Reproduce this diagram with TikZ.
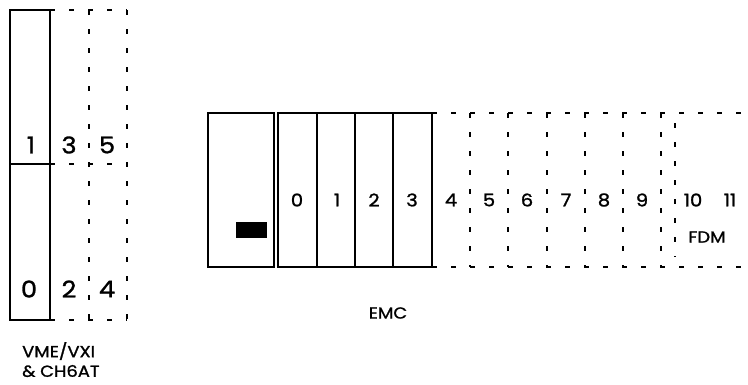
\documentclass[tikz,border=0pt]{standalone}
\usepackage{fontspec}
\setmainfont{Poppins}[FakeBold=1.3, FakeStretch=1.12]
\begin{document}
\begin{tikzpicture}[x=1pt,y=-1pt,
  solid line/.style={line width=2.4pt},
  slot line/.style={line width=1.7pt, dash pattern=on 5pt off 14pt},
  bigdigit/.style={font=\fontsize{23}{25}\selectfont, inner sep=0pt},
  slotdigit/.style={font=\fontsize{17.5}{19}\selectfont, inner sep=0pt},
  caption/.style={font=\fontsize{16}{18}\selectfont, inner sep=0pt}]
\useasboundingbox (0,0) rectangle (748,384);

% VME/VXI chassis: two solid slots plus dashed expansion slots
\draw[solid line] (10,10) rectangle (50,320);
\draw[solid line] (10,164) -- (50,164);
\draw[slot line] (50,10) -- (127,10);
\draw[slot line] (50,164) -- (127,164);
\draw[slot line] (50,320) -- (127,320);
\draw[slot line] (89,10) -- (89,320);
\draw[slot line] (127,10) -- (127,320);

\node[bigdigit] (v1) at (31,145) {1};
\node[bigdigit] (v3) at (69,145) {3};
\node[bigdigit] (v5) at (107,145) {5};
\node[bigdigit] (v0) at (29,289) {0};
\node[bigdigit] (v2) at (69,289) {2};
\node[bigdigit] (v4) at (107,289) {4};

\node[caption, anchor=west] (vme) at (22,351) {VME/VXI};
\node[caption, anchor=west] (ch6at) at (22,371) {\& CH6AT};

% EMC mainframe: controller and four solid slots
\draw[solid line] (208,113) rectangle (274,267);
\fill (236,222) rectangle (267,238);
\draw[solid line] (278,113) rectangle (432,267);
\draw[solid line] (317,113) -- (317,267);
\draw[solid line] (355,113) -- (355,267);
\draw[solid line] (393,113) -- (393,267);

% dashed expansion slots
\draw[slot line] (432,113) -- (748,113);
\draw[slot line] (432,267) -- (748,267);
\foreach \xx in {470,508,547,585,623,661}
  \draw[slot line] (\xx,113) -- (\xx,267);
\draw[slot line] (675,123) -- (675,257);

\node[slotdigit] (e0) at (297,200) {0};
\node[slotdigit] (e1) at (337,200) {1};
\node[slotdigit] (e2) at (374,200) {2};
\node[slotdigit] (e3) at (412,200) {3};
\node[slotdigit] (e4) at (451,200) {4};
\node[slotdigit] (e5) at (489,200) {5};
\node[slotdigit] (e6) at (527,200) {6};
\node[slotdigit] (e7) at (566,200) {7};
\node[slotdigit] (e8) at (604,200) {8};
\node[slotdigit] (e9) at (642,200) {9};
\node[slotdigit] (e10) at (693,200) {10};
\node[slotdigit] (e11) at (730,200) {11};
\node[caption] (fdm) at (707,237) {FDM};

\node[caption] (emc) at (388,313) {EMC};
\end{tikzpicture}
\end{document}
